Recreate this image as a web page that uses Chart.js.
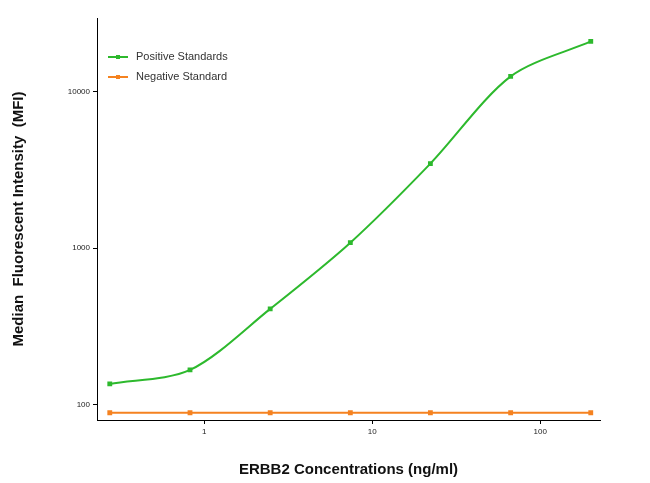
<!DOCTYPE html>
<html><head><meta charset="utf-8">
<script src="https://cdn.jsdelivr.net/npm/chart.js@4"></script>
<style>body{margin:0;background:#fff}#w{width:650px;height:483px}</style>
</head><body><div id="w"><canvas id="c"></canvas></div>
<script>
const concentrations=[0.274,0.823,2.47,7.41,22.2,66.7,200];
const positive=[136,167,410,1085,3470,12500,20900];
const negative=[89,89,89,89,89,89,89];
const xTicks=[1,10,100];
const yTicks=[100,1000,10000];
const green='#2db92d', orange='#f58220';
const legendPlugin={id:'lg',afterDraw(ch){const c=ch.ctx;c.save();c.font='11px "Liberation Sans", Arial';c.textBaseline='middle';
[[ 'Positive Standards',green,57],['Negative Standard',orange,77]].forEach(([t,col,y])=>{c.strokeStyle=col;c.fillStyle=col;c.lineWidth=2;c.beginPath();c.moveTo(108,y);c.lineTo(128,y);c.stroke();c.fillRect(116,y-2,4,4);c.fillStyle='#333';c.fillText(t,136,y);});c.restore();}};
new Chart(document.getElementById('c'),{type:'line',
data:{datasets:[
{label:'Positive Standards',data:concentrations.map((x,i)=>({x,y:positive[i]})),borderColor:green,backgroundColor:green,borderWidth:2,pointStyle:'rect',pointRadius:2,tension:0.3},
{label:'Negative Standard',data:concentrations.map((x,i)=>({x,y:negative[i]})),borderColor:orange,backgroundColor:orange,borderWidth:2,pointStyle:'rect',pointRadius:2}]},
options:{responsive:true,maintainAspectRatio:false,animation:false,
layout:{padding:{top:18,right:50,left:0,bottom:0}},
plugins:{legend:{display:false},tooltip:{enabled:false}},
scales:{
x:{type:'logarithmic',min:0.23,max:227,afterBuildTicks:s=>{s.ticks=xTicks.map(v=>({value:v}))},afterFit:s=>{s.height=63},
 ticks:{color:'#222',font:{size:8,family:'"Liberation Sans", Arial'},callback:v=>String(v),maxRotation:0},
 grid:{drawOnChartArea:false,color:'#000',tickLength:4},border:{color:'#000',width:1},
 title:{display:true,text:'ERBB2 Concentrations (ng/ml)',color:'#111',font:{size:15,weight:'bold',family:'"Liberation Sans", Arial'},padding:{top:14}}},
y:{type:'logarithmic',min:80,max:29500,afterBuildTicks:s=>{s.ticks=yTicks.map(v=>({value:v}))},afterFit:s=>{s.width=97},
 ticks:{color:'#222',font:{size:8,family:'"Liberation Sans", Arial'},callback:v=>String(v)},
 grid:{drawOnChartArea:false,color:'#000',tickLength:4},border:{color:'#000',width:1},
 title:{display:true,text:'Median  Fluorescent Intensity  (MFI)',color:'#111',font:{size:15,weight:'bold',family:'"Liberation Sans", Arial'},padding:{top:10,bottom:18}}}}},
plugins:[legendPlugin]});
</script></body></html>
